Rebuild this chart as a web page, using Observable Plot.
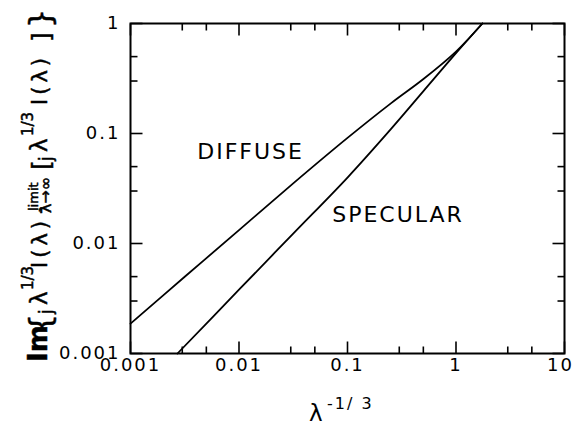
<!DOCTYPE html>
<html><head><meta charset="utf-8">
<script src="https://cdn.jsdelivr.net/npm/d3@7"></script>
<script src="https://cdn.jsdelivr.net/npm/@observablehq/plot@0.6"></script>
<style>
body{margin:0;background:#fff}
</style>
</head><body><div id="chart"></div>
<script>
// ---- data ----
const diffuseX = [0.001, 0.00316, 0.01, 0.0316, 0.1, 0.251, 0.501, 1.0, 1.75];
const diffuseY = [0.00187, 0.00498, 0.01324, 0.0352, 0.0912, 0.188, 0.313, 0.556, 1.0];
const specularX = [0.00271, 0.01, 0.0316, 0.1, 0.251, 0.501, 1.0, 1.75];
const specularY = [0.001, 0.0038, 0.0123, 0.0398, 0.1096, 0.2427, 0.537, 1.0];
const labelText = ["DIFFUSE", "SPECULAR"];
const labelX = [0.00412, 0.0723];
const labelY = [0.0686, 0.01824];
const majorX = [0.001, 0.01, 0.1, 1, 10];
const xTickLabels = ["0.001", "0.01", "0.1", "1", "10"];
const minorX = [0.003, 0.005, 0.03, 0.05, 0.3, 0.5, 3, 5];
const majorY = [0.001, 0.01, 0.1, 1];
const yTickLabels = ["0.001", "0.01", "0.1", "1"];
const minorY = [0.003, 0.005, 0.03, 0.05, 0.3, 0.5];

const rows = [
  ...diffuseX.map((x, i) => ({series: "DIFFUSE", x, y: diffuseY[i]})),
  ...specularX.map((x, i) => ({series: "SPECULAR", x, y: specularY[i]}))
];

const W = 573, H = 425, mL = 130, mR = 9, mT = 23, mB = 72;
const innerW = W - mL - mR, innerH = H - mT - mB;
const xDom = [0.001, 10], yDom = [0.001, 1];
const pxPerDecX = innerW / Math.log10(xDom[1] / xDom[0]);
const pxPerDecY = innerH / Math.log10(yDom[1] / yDom[0]);
const tickW = 1.6;
// inward ticks as short links (paths), length given in pixels and converted through the log scale
const tx = (vals, side, len) => {
  const k = Math.pow(10, len / pxPerDecY);
  const y0 = side === "bottom" ? yDom[0] : yDom[1];
  const y1 = side === "bottom" ? yDom[0] * k : yDom[1] / k;
  return Plot.link(vals, {x1: d => d, x2: d => d, y1: () => y0, y2: () => y1,
    stroke: "#000", strokeWidth: tickW});
};
const ty = (vals, side, len) => {
  const k = Math.pow(10, len / pxPerDecX);
  const x0 = side === "left" ? xDom[0] : xDom[1];
  const x1 = side === "left" ? xDom[0] * k : xDom[1] / k;
  return Plot.link(vals, {y1: d => d, y2: d => d, x1: () => x0, x2: () => x1,
    stroke: "#000", strokeWidth: tickW});
};

const chart = Plot.plot({
  width: W, height: H,
  marginLeft: mL, marginRight: mR, marginTop: mT, marginBottom: mB,
  style: {fontFamily: "DejaVu Sans", fontSize: "18px", background: "white", color: "black"},
  x: {type: "log", domain: xDom, label: null},
  y: {type: "log", domain: yDom, label: null},
  marks: [
    Plot.frame({stroke: "black", fill: "none", strokeWidth: 2}),
    tx(majorX, "bottom", 12), tx(minorX, "bottom", 7),
    tx(majorX, "top", 12), tx(minorX, "top", 7),
    ty(majorY, "left", 12), ty(minorY, "left", 7),
    ty(majorY, "right", 12), ty(minorY, "right", 7),
    Plot.axisX(majorX, {anchor: "bottom", tickSize: 0, tickPadding: 5, label: null, fontSize: 18,
      tickFormat: d => xTickLabels[majorX.indexOf(d)]}),
    Plot.axisY(majorY, {anchor: "left", tickSize: 0, tickPadding: 10, label: null, fontSize: 18,
      tickFormat: d => yTickLabels[majorY.indexOf(d)]}),
    Plot.line(rows, {x: "x", y: "y", z: "series", stroke: "black", strokeWidth: 1.8, curve: "catmull-rom"}),
    Plot.text(labelText, {x: (d, i) => labelX[i], y: (d, i) => labelY[i], text: d => d,
      textAnchor: "start", fontSize: 22, fill: "black"})
  ]
});
document.getElementById("chart").appendChild(chart);

const svg = d3.select(chart.tagName.toLowerCase() === "svg" ? chart : chart.querySelector("svg"));
svg.selectAll('g[aria-label="text"] text').style("letter-spacing", "2px");
svg.selectAll('g[aria-label$="tick label"] text').style("letter-spacing", "2px").style("font-size", "18px");
svg.selectAll('g[aria-label="x-axis tick label"] text').filter(function() { return this.textContent === "10"; })
  .attr("dx", -4);

// y-axis label (rotated, composed of pieces)
const yParts = [
  {t: "Im", at: 362, v: 0, s: 26, w: "bold"},
  {t: "{", at: 333, v: 4, s: 30},
  {t: "j", at: 314, v: 5, s: 17},
  {t: "λ", at: 305, v: 0, s: 23},
  {t: "1/3", at: 290, v: -14, s: 15},
  {t: "I(λ)", at: 268, v: 0, s: 21, ls: 4},
  {t: "-", at: 214, v: 0, s: 21},
  {t: "limit", at: 211, v: -9, s: 13},
  {t: "λ→∞", at: 213, v: 4, s: 16},
  {t: "[", at: 170, v: 3, s: 25},
  {t: "j", at: 161, v: 5, s: 17},
  {t: "λ", at: 152, v: 0, s: 23},
  {t: "1/3", at: 136, v: -14, s: 15},
  {t: "I(λ)", at: 105, v: 0, s: 21, ls: 4},
  {t: "]", at: 42, v: 3, s: 25},
  {t: "}", at: 28, v: 4, s: 30}
];
const g = svg.append("g").attr("transform", "translate(47,0) rotate(-90)")
  .attr("fill", "black").attr("stroke", "black").attr("stroke-width", 0.5)
  .attr("text-anchor", "start").style("font-family", "DejaVu Sans");
yParts.forEach(p => {
  g.append("text").attr("x", -p.at).attr("y", p.v).attr("font-size", p.s).attr("text-anchor", "start")
    .attr("font-weight", p.w || "normal").style("letter-spacing", (p.ls || 0) + "px").text(p.t);
});

// x-axis label
const xg = svg.append("g").attr("fill", "black").attr("text-anchor", "start").style("font-family", "DejaVu Sans");
xg.append("text").attr("x", 309).attr("y", 421).attr("font-size", 23).text("λ");
xg.append("text").attr("x", 327).attr("y", 409).attr("font-size", 16).style("letter-spacing", "2px").text("-1/ 3");
</script>
</body></html>
